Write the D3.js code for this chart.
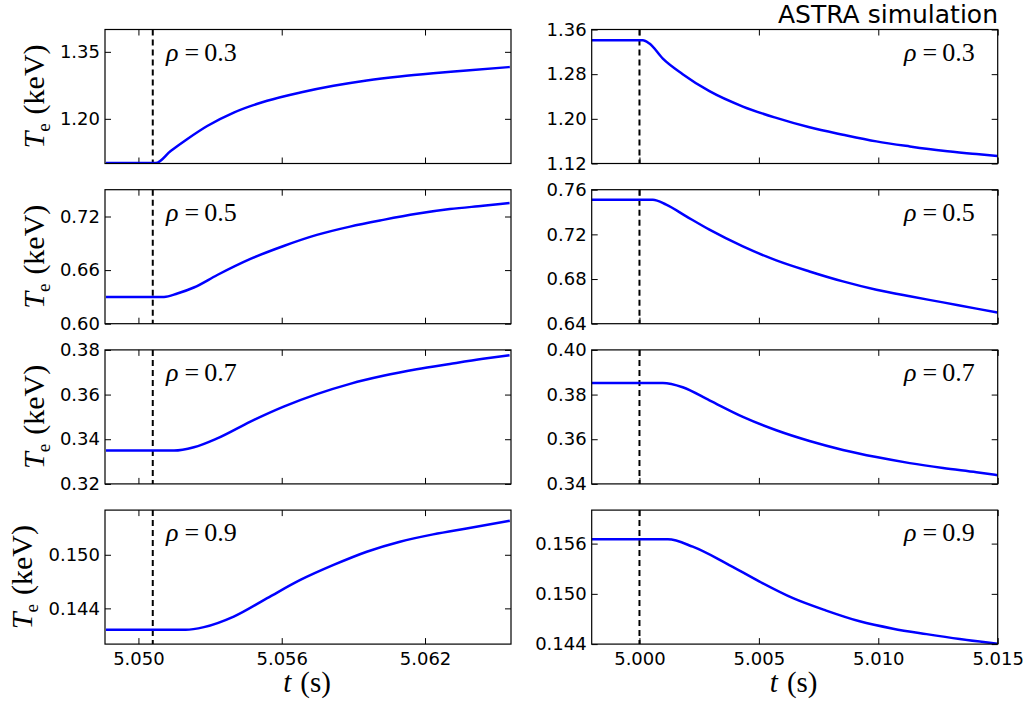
<!DOCTYPE html>
<html>
<head>
<meta charset="utf-8">
<script src="https://cdn.jsdelivr.net/npm/d3@7"></script>
<style>
  body { margin: 0; background: #fff; }
  svg { display: block; }
</style>
</head>
<body>
<svg id="chart" width="1031" height="709"></svg>
<script>
var rhoLabels = ["0.3", "0.5", "0.7", "0.9"];

// left column: Te rises after the switch, [t (s), Te (keV)]
var heatRho03 = [[5.04864,1.101],[5.05072,1.101],[5.05135,1.128],[5.05205,1.155],[5.05288,1.184],[5.05399,1.214],[5.05539,1.2405],[5.05678,1.259],[5.05817,1.274],[5.05956,1.286],[5.06095,1.295],[5.06234,1.302],[5.06374,1.308],[5.06555,1.316]];
var heatRho05 = [[5.04864,0.630],[5.05107,0.630],[5.05163,0.6338],[5.05232,0.6405],[5.05330,0.6545],[5.05469,0.6725],[5.05608,0.6870],[5.05747,0.6994],[5.05886,0.7087],[5.06025,0.7162],[5.06165,0.723],[5.06304,0.7283],[5.06443,0.732],[5.06554,0.735]];
var heatRho07 = [[5.04864,0.3349],[5.05149,0.3349],[5.05232,0.3364],[5.05330,0.3404],[5.05469,0.3479],[5.05608,0.3546],[5.05747,0.3602],[5.05886,0.3648],[5.06025,0.3684],[5.06165,0.3713],[5.06304,0.3737],[5.06443,0.376],[5.06554,0.3776]];
var heatRho09 = [[5.04864,0.1416],[5.05198,0.1416],[5.05274,0.1419],[5.05399,0.14308],[5.05539,0.14514],[5.05678,0.14718],[5.05817,0.14886],[5.05956,0.15034],[5.06095,0.15146],[5.06234,0.15228],[5.06374,0.15295],[5.06555,0.1538]];

// right column: Te drops after the switch
var coolRho03 = [[4.99798,1.3407],[5.00014,1.3407],[5.00042,1.3348],[5.00098,1.3078],[5.00181,1.2800],[5.00293,1.2495],[5.00433,1.222],[5.00573,1.2017],[5.00712,1.1848],[5.00852,1.1716],[5.00992,1.1596],[5.01132,1.1506],[5.01271,1.1428],[5.01411,1.1369],[5.01499,1.1333]];
var coolRho05 = [[4.99798,0.751],[5.00056,0.751],[5.00112,0.7466],[5.00196,0.7361],[5.00293,0.7242],[5.00433,0.7092],[5.00573,0.6967],[5.00712,0.6868],[5.00852,0.6779],[5.00992,0.6704],[5.01132,0.6645],[5.01271,0.6591],[5.01411,0.6535],[5.01499,0.6501]];
var coolRho07 = [[4.99798,0.3852],[5.00098,0.3852],[5.00181,0.3833],[5.00293,0.3774],[5.00433,0.3700],[5.00573,0.3640],[5.00712,0.3592],[5.00852,0.3552],[5.00992,0.3520],[5.01132,0.3493],[5.01271,0.3471],[5.01411,0.3452],[5.01499,0.3439]];
var coolRho09 = [[4.99798,0.15651],[5.00119,0.15651],[5.00223,0.15563],[5.00363,0.15365],[5.00503,0.15146],[5.00643,0.14948],[5.00782,0.14800],[5.00922,0.14672],[5.01062,0.14584],[5.01202,0.14519],[5.01341,0.1446],[5.01499,0.14404]];

var heatYDomains = [[1.10, 1.40], [0.60, 0.75], [0.32, 0.38], [0.140, 0.155]];
var heatYTicks = [[1.20, 1.35], [0.60, 0.66, 0.72], [0.32, 0.34, 0.36, 0.38], [0.144, 0.150]];
var coolYDomains = [[1.12, 1.36], [0.64, 0.76], [0.34, 0.40], [0.144, 0.160]];
var coolYTicks = [[1.12, 1.20, 1.28, 1.36], [0.64, 0.68, 0.72, 0.76], [0.34, 0.36, 0.38, 0.40], [0.144, 0.150, 0.156]];
var yFormats = [".2f", ".2f", ".2f", ".3f"];

var heatXDomain = [5.0486, 5.0656], heatXTicks = [5.050, 5.056, 5.062], heatSwitch = 5.0506;
var coolXDomain = [4.998, 5.015], coolXTicks = [5.000, 5.005, 5.010, 5.015], coolSwitch = 5.000;

var columns = [
  { series: [heatRho03, heatRho05, heatRho07, heatRho09], yDomains: heatYDomains, yTicks: heatYTicks,
    xDomain: heatXDomain, xTicks: heatXTicks, tSwitch: heatSwitch, left: 105, labelLeft: true },
  { series: [coolRho03, coolRho05, coolRho07, coolRho09], yDomains: coolYDomains, yTicks: coolYTicks,
    xDomain: coolXDomain, xTicks: coolXTicks, tSwitch: coolSwitch, left: 591.7, labelLeft: false }
];

var panelW = 406, panelH = 134, rowTop0 = 29.5, rowStep = 160.2;
var tickFont = "DejaVu Sans", mathFont = "Liberation Serif";

var svg = d3.select("#chart");
var defs = svg.append("defs");

function styleAxis(g) {
  g.select(".domain").remove();
  g.selectAll(".tick line").attr("stroke", "#000").attr("stroke-width", 1);
  g.attr("font-size", 18).attr("font-family", tickFont);
  g.selectAll(".tick text").attr("fill", "#000");
}

columns.forEach(function(col, c) {
  var x = d3.scaleLinear().domain(col.xDomain).range([col.left, col.left + panelW]);

  col.series.forEach(function(data, r) {
    var top = rowTop0 + r * rowStep, bottom = top + panelH;
    var y = d3.scaleLinear().domain(col.yDomains[r]).range([bottom, top]);
    var g = svg.append("g");

    var clipId = "clip" + c + r;
    defs.append("clipPath").attr("id", clipId).append("rect")
      .attr("x", col.left).attr("y", top).attr("width", panelW).attr("height", panelH);

    // ticks pointing inward on all four sides
    g.append("g").attr("transform", "translate(" + col.left + ",0)")
      .call(d3.axisLeft(y).tickValues(col.yTicks[r]).tickSize(-6).tickPadding(5).tickFormat(d3.format(yFormats[r])))
      .call(styleAxis);
    g.append("g").attr("transform", "translate(" + (col.left + panelW) + ",0)")
      .call(d3.axisRight(y).tickValues(col.yTicks[r]).tickSize(-6).tickFormat(""))
      .call(styleAxis);
    g.append("g").attr("transform", "translate(0," + top + ")")
      .call(d3.axisTop(x).tickValues(col.xTicks).tickSize(-6).tickFormat(""))
      .call(styleAxis);
    g.append("g").attr("transform", "translate(0," + bottom + ")")
      .call(d3.axisBottom(x).tickValues(col.xTicks).tickSize(-6).tickPadding(8)
        .tickFormat(r === 3 ? d3.format(".3f") : ""))
      .call(styleAxis);

    var plot = g.append("g").attr("clip-path", "url(#" + clipId + ")");

    plot.append("line")
      .attr("x1", x(col.tSwitch)).attr("x2", x(col.tSwitch))
      .attr("y1", top).attr("y2", bottom)
      .attr("stroke", "#000").attr("stroke-width", 2).attr("stroke-dasharray", "6,4");

    var line = d3.line()
      .x(function(d) { return x(d[0]); })
      .y(function(d) { return y(d[1]); })
      .curve(d3.curveMonotoneX);

    plot.append("path").datum(data)
      .attr("d", line)
      .attr("fill", "none")
      .attr("stroke", "#0000ff")
      .attr("stroke-width", 2.5);

    g.append("rect")
      .attr("x", col.left).attr("y", top).attr("width", panelW).attr("height", panelH)
      .attr("fill", "none").attr("stroke", "#000").attr("stroke-width", 1.2);

    // rho label
    var lab = g.append("text")
      .attr("x", col.labelLeft ? col.left + 61 : col.left + panelW - 23)
      .attr("y", top + 31)
      .attr("text-anchor", col.labelLeft ? "start" : "end")
      .attr("font-family", mathFont).attr("font-size", 26);
    lab.append("tspan").attr("font-style", "italic").text("ρ");
    lab.append("tspan").attr("dx", 6).text("=");
    lab.append("tspan").attr("dx", 5).text(rhoLabels[r]);

    if (c === 0) {
      // matplotlib pushes the label further out where tick labels are wider
      var labelX = r === 3 ? 32 : 44;
      var yl = g.append("text")
        .attr("transform", "translate(" + labelX + "," + (top + panelH / 2) + ") rotate(-90)")
        .attr("text-anchor", "middle")
        .attr("font-family", mathFont).attr("font-size", 30);
      yl.append("tspan").attr("font-style", "italic").text("T");
      yl.append("tspan").attr("font-size", 19).attr("dy", 6).text("e");
      yl.append("tspan").attr("dy", -6).attr("dx", 9).text("(keV)");
    }

    if (r === 3) {
      var xl = g.append("text")
        .attr("x", col.left + panelW / 2 - 1).attr("y", 692)
        .attr("text-anchor", "middle")
        .attr("font-family", mathFont).attr("font-size", 29);
      xl.append("tspan").attr("font-style", "italic").text("t");
      xl.append("tspan").attr("dx", 9).text("(s)");
    }
  });
});

svg.append("text")
  .attr("x", 998).attr("y", 23)
  .attr("text-anchor", "end")
  .attr("font-family", tickFont).attr("font-size", 25)
  .text("ASTRA simulation");
</script>
</body>
</html>
